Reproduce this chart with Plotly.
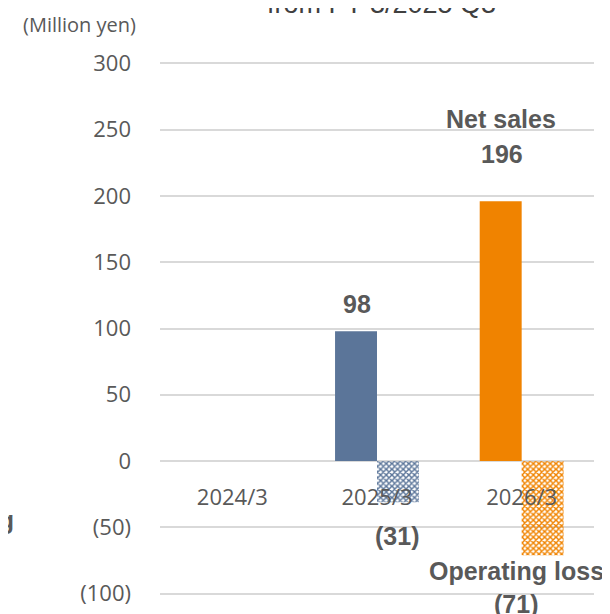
import plotly.graph_objects as go

categories = ["2024/3", "2025/3", "2026/3"]
net_sales = [None, 98, 196]
operating_loss = [None, -31, -71]
bar_colors = ["#5B7599", "#5B7599", "#F08300"]
y_tickvals = [-100, -50, 0, 50, 100, 150, 200, 250, 300]
y_ticktext = ["(100)", "(50)", "0", "50", "100", "150", "200", "250", "300"]
y_range = [-101, 301]

GRAY = "#595959"
LBL = "#595959"
BOLD_FONT = dict(family="Liberation Sans, Arial", size=25, color=LBL, weight="bold")

fig = go.Figure()
fig.add_trace(go.Bar(
    x=categories, y=net_sales, name="Net sales",
    marker=dict(color=bar_colors, line=dict(width=0)),
))
fig.add_trace(go.Bar(
    x=categories, y=operating_loss, name="Operating loss",
    marker=dict(
        color=bar_colors, line=dict(width=0),
        pattern=dict(shape="x", size=4, solidity=0.6, fillmode="replace",
                     fgcolor=bar_colors, bgcolor="white"),
    ),
))

def fmt(v):
    return f"({abs(v)})" if v < 0 else f"{v}"

ann = []
ann.append(dict(x=categories[1], y=net_sales[1], text=fmt(net_sales[1]),
                xshift=-20, yshift=27, yanchor="middle"))
ann.append(dict(x=categories[2], y=net_sales[2], text=fmt(net_sales[2]),
                xshift=-20, yshift=47, yanchor="middle"))
ann.append(dict(x=categories[2], y=net_sales[2], text="Net sales",
                xshift=-21, yshift=82, yanchor="middle"))
ann.append(dict(x=categories[1], y=operating_loss[1], text=fmt(operating_loss[1]),
                xshift=20, yshift=-34, yanchor="middle"))
ann.append(dict(x=categories[2], y=operating_loss[2], text="Operating loss",
                xshift=-5, yshift=-16, yanchor="middle"))
ann.append(dict(x=categories[2], y=operating_loss[2], text=fmt(operating_loss[2]),
                xshift=-6, yshift=-49, yanchor="middle"))
for a in ann:
    a.update(xref="x", yref="y", showarrow=False, font=BOLD_FONT, xanchor="center")

ann.append(dict(xref="paper", yref="y", x=-0.331, y=-44.5, text="Operating",
                xanchor="right", yanchor="middle", showarrow=False, font=BOLD_FONT))
ann.append(dict(xref="paper", yref="paper", x=-0.1866, y=1.0, yshift=38,
                text="(Million yen)", xanchor="center", yanchor="middle",
                showarrow=False,
                font=dict(family="Open Sans", size=20, color=GRAY)))
ann.append(dict(xref="paper", yref="paper", x=0.5115, y=1.0, yshift=41,
                text="from FY 3/2025 Q3", xanchor="center", yanchor="bottom",
                showarrow=False,
                font=dict(family="Liberation Sans, Arial", size=27, color="#404040")))

fig.update_layout(
    width=610, height=614,
    margin=dict(l=152, r=24, t=54, b=27),
    paper_bgcolor="white", plot_bgcolor="white",
    barmode="group", bargap=0.42, bargroupgap=0,
    showlegend=False,
    annotations=ann,
    xaxis=dict(type="category", categoryorder="array", categoryarray=categories,
               range=[-0.5, len(categories) - 0.5], autorange=False,
               anchor="free", position=(0 - y_range[0]) / (y_range[1] - y_range[0]),
               showline=False, ticks="", showgrid=False, zeroline=False,
               ticklabelstandoff=21,
               tickfont=dict(family="Open Sans", size=22, color=GRAY)),
    yaxis=dict(range=y_range, tickvals=y_tickvals, ticktext=y_ticktext,
               showgrid=True, gridcolor="#D9D9D9", gridwidth=1.5,
               zeroline=True, zerolinecolor="#D9D9D9", zerolinewidth=1.5,
               showline=False, ticks="", ticklabelstandoff=28,
               tickfont=dict(family="Open Sans", size=22, color=GRAY)),
)

fig.write_html("out.html")
